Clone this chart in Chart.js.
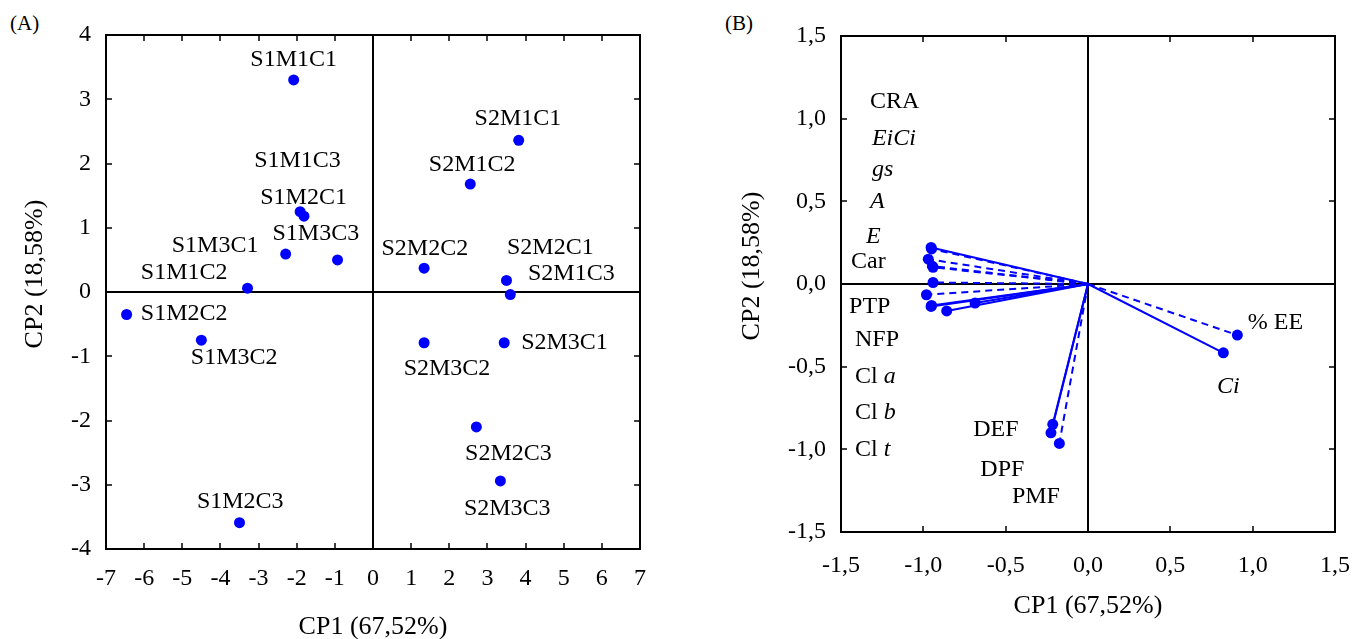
<!DOCTYPE html>
<html>
<head>
<meta charset="utf-8">
<title>PCA biplot</title>
<script src="https://cdn.jsdelivr.net/npm/chart.js@4.4.1/dist/chart.umd.min.js"></script>
<style>
body{margin:0;background:#fff;}
.box{position:absolute;top:0;width:685px;height:639px;}
#boxA{left:0;}
#boxB{left:685px;}
.tag{position:absolute;top:11px;font:21px "Liberation Serif",serif;color:#000;}
</style>
</head>
<body>
<div class="tag" style="left:10px">(A)</div>
<div class="tag" style="left:725px">(B)</div>
<div class="box" id="boxA"><canvas id="chartA"></canvas></div>
<div class="box" id="boxB"><canvas id="chartB"></canvas></div>
<script>
"use strict"

// ---- panel A: treatment scores ----
const scoreNames = ["S1M1C1","S1M1C2","S1M1C3","S1M2C1","S1M2C2","S1M2C3","S1M3C1","S1M3C2","S1M3C3",
                    "S2M1C1","S2M1C2","S2M1C3","S2M2C1","S2M2C2","S2M2C3","S2M3C1","S2M3C2","S2M3C3"];
const scoreCP1 = [-2.08,-3.29,-1.81,-1.91,-6.46,-3.50,-2.29,-4.50,-0.93,
                   3.82,2.55,3.60,3.50,1.34,2.71,3.44,1.34,3.34];
const scoreCP2 = [3.30,0.06,1.18,1.25,-0.35,-3.59,0.59,-0.75,0.50,
                  2.36,1.68,-0.04,0.18,0.37,-2.10,-0.79,-0.79,-2.94];
// where each name is written (centre of the text)
const scoreLabelX = [-2.08,-4.95,-1.98,-1.82,-4.95,-3.48,-4.14,-3.64,-1.50,
                      3.80,2.60,5.20,4.65,1.36,3.55,5.02,1.94,3.52];
const scoreLabelY = [3.61,0.30,2.05,1.47,-0.34,-3.27,0.72,-1.03,0.91,
                     2.70,1.98,0.28,0.69,0.67,-2.52,-0.79,-1.20,-3.37];

// ---- panel B: variable loadings ----
const varNames  = ["CRA","EiCi","gs","A","E","Car","PTP","NFP","Cl a","Cl b","Cl t","DEF","DPF","PMF","% EE","Ci"];
const varItalic = ["none","all","all","all","all","none","none","none","last","last","last","none","none","none","none","all"];
const varCP1 = [-0.953,-0.950,-0.970,-0.945,-0.941,-0.941,-0.981,-0.953,-0.858,-0.686,-0.950,-0.214,-0.225,-0.174,0.907,0.822];
const varCP2 = [0.221,0.212,0.150,0.108,0.101,0.009,-0.065,-0.136,-0.163,-0.115,-0.130,-0.849,-0.900,-0.964,-0.309,-0.416];
const varDashed = [false,true,true,true,true,true,true,false,false,false,false,false,false,true,true,false];
// where each name is written (left end, middle of the text)
const varLabelX = [-1.324,-1.312,-1.312,-1.324,-1.348,-1.439,-1.451,-1.415,-1.415,-1.415,-1.415,-0.697,-0.654,-0.462,0.970,0.783];
const varLabelY = [1.101,0.877,0.690,0.496,0.285,0.133,-0.139,-0.339,-0.563,-0.780,-1.004,-0.883,-1.125,-1.289,-0.236,-0.623];

const xTitle = "CP1 (67,52%)";
const yTitle = "CP2 (18,58%)";

const SERIF = '"Liberation Serif","Times New Roman",serif';
const BLUE = "#0000ff";
Chart.defaults.font.family = SERIF;
Chart.defaults.color = "#000";

function fmtComma(v){
    return v.toFixed(1).replace(".", ",");
}

function line(ctx, x1, y1, x2, y2){
    ctx.beginPath();
    ctx.moveTo(x1, y1);
    ctx.lineTo(x2, y2);
    ctx.stroke();
}

// draw text where some part may be italic
function richText(ctx, text, mode, x, y, size, align){
    var parts;
    if(mode == "all") parts = [[text, true]];
    else if(mode == "last"){
        var k = text.lastIndexOf(" ") + 1;
        parts = [[text.slice(0, k), false], [text.slice(k), true]];
    }else parts = [[text, false]];
    var w = 0;
    parts.forEach(p => {
        ctx.font = (p[1] ? "italic " : "") + size + "px " + SERIF;
        w += ctx.measureText(p[0]).width;
    });
    var cx = align == "center" ? x - w / 2 : x;
    ctx.textAlign = "left";
    ctx.textBaseline = "middle";
    parts.forEach(p => {
        ctx.font = (p[1] ? "italic " : "") + size + "px " + SERIF;
        ctx.fillText(p[0], cx, y);
        cx += ctx.measureText(p[0]).width;
    });
}

/*
Frame, zero lines, inward ticks, axis titles and point names.
cfg: labels, labelX, labelY, italic, align, xTitleGap, yTitleX
*/
function makeDecor(cfg){
    return {
        id: "decor",
        beforeDatasetsDraw(chart){
            var ctx = chart.ctx, a = chart.chartArea;
            var sx = chart.scales.x, sy = chart.scales.y;
            ctx.save();
            ctx.strokeStyle = "#000";
            ctx.lineWidth = 2;
            ctx.strokeRect(a.left, a.top, a.right - a.left, a.bottom - a.top);
            // zero cross
            var x0 = Math.round(sx.getPixelForValue(0)), y0 = Math.round(sy.getPixelForValue(0));
            line(ctx, x0, a.top, x0, a.bottom);
            line(ctx, a.left, y0, a.right, y0);
            // ticks pointing into the plot on all four sides
            ctx.lineWidth = 1.5;
            sx.ticks.forEach(t => {
                var px = Math.round(sx.getPixelForValue(t.value));
                line(ctx, px, a.bottom, px, a.bottom - 6);
                line(ctx, px, a.top, px, a.top + 6);
            });
            sy.ticks.forEach(t => {
                var py = Math.round(sy.getPixelForValue(t.value));
                line(ctx, a.left, py, a.left + 6, py);
                line(ctx, a.right, py, a.right - 6, py);
            });
            ctx.restore();
        },
        afterDatasetsDraw(chart){
            var ctx = chart.ctx, a = chart.chartArea;
            var sx = chart.scales.x, sy = chart.scales.y;
            ctx.save();
            ctx.fillStyle = "#000";
            for(var i = 0; i < cfg.labels.length; i++){
                richText(ctx, cfg.labels[i], cfg.italic ? cfg.italic[i] : "none",
                    sx.getPixelForValue(cfg.labelX[i]), sy.getPixelForValue(cfg.labelY[i]), 24, cfg.align);
            }
            // axis titles
            ctx.font = "26px " + SERIF;
            ctx.textAlign = "center";
            ctx.textBaseline = "middle";
            ctx.fillText(xTitle, sx.getPixelForValue(0), a.bottom + cfg.xTitleGap);
            ctx.translate(cfg.yTitleX, (a.top + a.bottom) / 2 - 18);
            ctx.rotate(-Math.PI / 2);
            ctx.fillText(yTitle, 0, 0);
            ctx.restore();
        }
    };
}

function scaleOpts(min, max, step, pad, fmt, fix){
    return {
        type: "linear", min: min, max: max,
        grid: {display: false, drawTicks: false},
        border: {display: false},
        ticks: {stepSize: step, padding: pad, font: {size: 24}, callback: fmt},
        afterFit: fix
    };
}

// ---- chart A ----
new Chart("chartA", {
    type: "scatter",
    data: {
        datasets: [{
            data: scoreCP1.map((v, i) => ({x: v, y: scoreCP2[i]})),
            pointRadius: 5.5,
            pointBackgroundColor: BLUE,
            pointBorderWidth: 0
        }]
    },
    options: {
        responsive: true, maintainAspectRatio: false, animation: false,
        layout: {padding: {top: 35, right: 45, left: 0, bottom: 0}},
        plugins: {legend: {display: false}, tooltip: {enabled: false}},
        scales: {
            x: scaleOpts(-7, 7, 1, 15, v => String(v), s => { s.height = 90; }),
            y: scaleOpts(-4, 4, 1, 15, v => String(v), s => { s.width = 106; })
        }
    },
    plugins: [makeDecor({labels: scoreNames, labelX: scoreLabelX, labelY: scoreLabelY,
                         align: "center", xTitleGap: 78, yTitleX: 35})]
});

// ---- chart B ----
new Chart("chartB", {
    type: "scatter",
    data: {
        datasets: varCP1.map((v, i) => ({
            data: [{x: 0, y: 0}, {x: v, y: varCP2[i]}],
            showLine: true,
            borderColor: BLUE,
            borderWidth: 2,
            borderDash: varDashed[i] ? [7, 5] : [],
            pointRadius: [0, 5.5],
            pointBackgroundColor: BLUE,
            pointBorderWidth: 0
        }))
    },
    options: {
        responsive: true, maintainAspectRatio: false, animation: false,
        layout: {padding: {top: 36, right: 35, left: 0, bottom: 0}},
        plugins: {legend: {display: false}, tooltip: {enabled: false}},
        scales: {
            x: scaleOpts(-1.5, 1.5, 0.5, 19, v => fmtComma(v), s => { s.height = 107; }),
            y: scaleOpts(-1.5, 1.5, 0.5, 15, v => fmtComma(v), s => { s.width = 156; })
        }
    },
    plugins: [makeDecor({labels: varNames, labelX: varLabelX, labelY: varLabelY, italic: varItalic,
                         align: "left", xTitleGap: 74, yTitleX: 67})]
});
</script>
</body>
</html>
